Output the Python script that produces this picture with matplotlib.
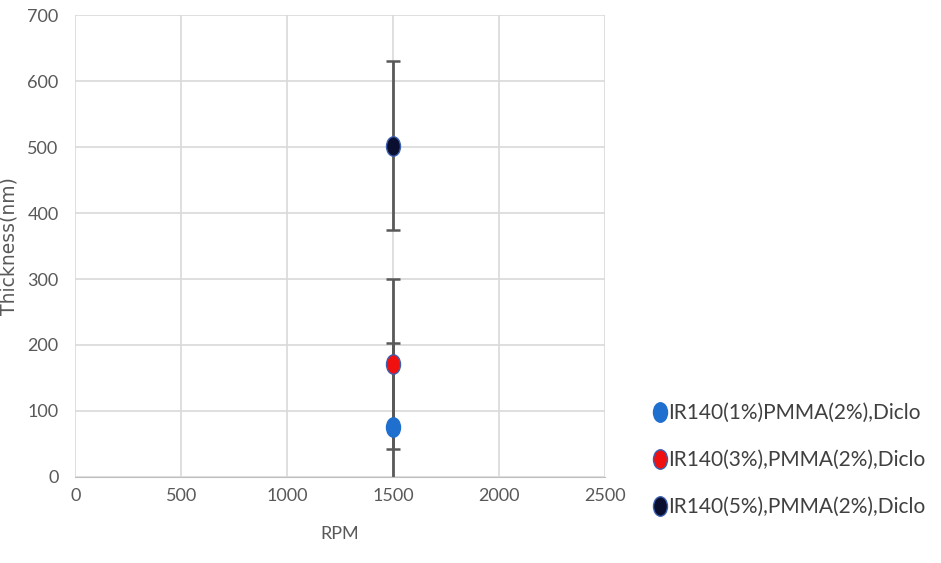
import numpy as np
import matplotlib.pyplot as plt
from matplotlib.path import Path

plt.rcParams['font.family'] = ['Lato', 'DejaVu Sans']

# data
labels = ['IR140(1%)PMMA(2%),Diclo',
          'IR140(3%),PMMA(2%),Diclo',
          'IR140(5%),PMMA(2%),Diclo']
rpm = [1500, 1500, 1500]
thickness = [75, 171, 502]
errors = [128, 129, 128]
colors = ['#1f6fce', '#f01010', '#0a0f30']
edges = ['#1f6fce', '#3a5fb0', '#3a5fb0']

# slightly tall ellipse marker
circ = Path.unit_circle()
ellipse = Path(circ.vertices * np.array([0.72, 1.0]), circ.codes)

fig = plt.figure(figsize=(9.41, 5.63), dpi=100)
ax = fig.add_axes([0.080, 0.153, 0.563, 0.820])

for x, y, e, c, ec, lab in zip(rpm, thickness, errors, colors, edges, labels):
    ax.errorbar(x, y, yerr=e, fmt='none', ecolor='#595959', elinewidth=2,
                capsize=5, capthick=1.8, zorder=2)
    ax.plot(x, y, marker=ellipse, markersize=14, color=c, markeredgecolor=ec,
            markeredgewidth=1, linestyle='none', label=lab, zorder=3)

ax.set_xlim(0, 2500)
ax.set_ylim(0, 700)
ax.set_xticks(range(0, 2501, 500))
ax.set_yticks(range(0, 701, 100))
ax.grid(True, color='#d9d9d9', linewidth=1.2)
ax.set_axisbelow(True)
for s in ['top', 'right', 'left']:
    ax.spines[s].set_visible(False)
ax.spines['bottom'].set_color('#bfbfbf')
ax.tick_params(length=0, labelsize=13, labelcolor='#595959')
ax.tick_params(axis='y', pad=12)
ax.tick_params(axis='x', pad=8)

ax.set_xlabel('RPM', fontsize=13, color='#595959', labelpad=16)
ax.set_ylabel('Thickness(nm)', fontsize=13.5, color='#595959',
              family='DejaVu Sans')
ax.yaxis.set_label_coords(-0.108, 0.5)

fig.legend(loc='center left', bbox_to_anchor=(0.676, 0.183), frameon=False,
           fontsize=15, labelcolor='#404040', handlelength=0.5,
           handletextpad=0.15, labelspacing=1.3)

fig.savefig('out.png', dpi=100)
